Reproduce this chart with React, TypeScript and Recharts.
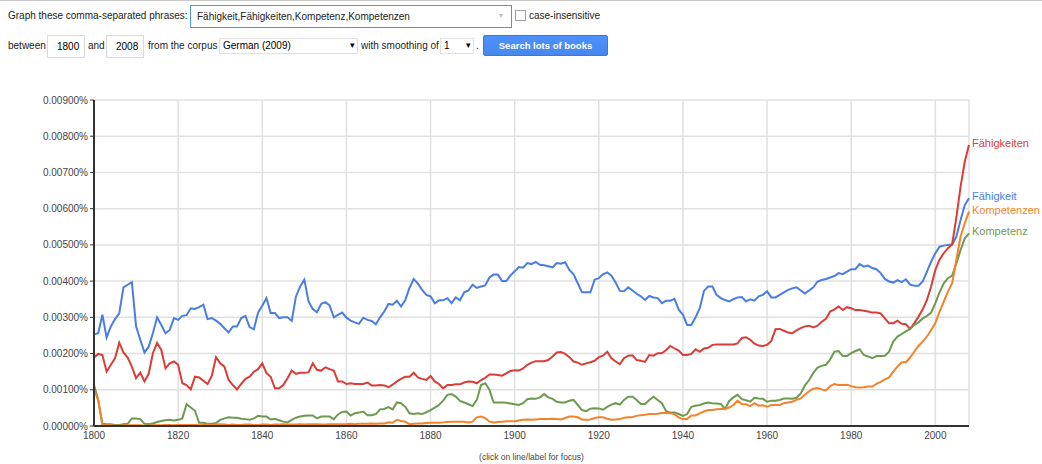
import React from "react";
import { LineChart, Line, XAxis, YAxis, CartesianGrid } from "recharts";

// Values are in units of 0.001 % (2.53 -> 0.00253%), one per year 1800..2008
const years = Array.from({ length: 209 }, (_, i) => 1800 + i);

const faehigkeit = [
  2.53, 2.56, 3.07, 2.44, 2.75, 2.95, 3.11, 3.83, 3.9, 3.97,
  2.75, 2.38, 2.03, 2.19, 2.56, 3.0, 2.79, 2.56, 2.65, 2.98,
  2.93, 3.04, 3.06, 3.25, 3.23, 3.28, 3.35, 2.95, 2.98, 2.91,
  2.82, 2.7, 2.58, 2.75, 2.75, 2.98, 3.04, 2.73, 2.67, 3.13,
  3.32, 3.53, 3.12, 3.12, 2.98, 3.0, 3.0, 2.9, 3.57, 3.85,
  4.04, 3.44, 3.23, 3.14, 3.37, 3.42, 3.33, 3.0, 3.07, 3.13,
  2.99, 2.91, 2.86, 2.82, 2.99, 2.93, 2.9, 2.81, 3.0, 3.16,
  3.37, 3.35, 3.46, 3.3, 3.48, 3.81, 4.06, 3.93, 3.76, 3.62,
  3.58, 3.39, 3.47, 3.47, 3.53, 3.39, 3.55, 3.47, 3.69, 3.74,
  3.9, 3.81, 3.85, 3.88, 4.1, 4.18, 4.18, 4.0, 4.0, 4.16,
  4.27, 4.39, 4.37, 4.5, 4.47, 4.53, 4.45, 4.44, 4.41, 4.38,
  4.5, 4.48, 4.52, 4.31, 4.19, 3.94, 3.69, 3.69, 3.69, 4.04,
  4.08, 4.19, 4.24, 4.15, 3.96, 3.73, 3.72, 3.83, 3.74, 3.65,
  3.58, 3.48, 3.59, 3.55, 3.53, 3.39, 3.46, 3.46, 3.51, 3.21,
  3.07, 2.79, 2.79, 3.0, 3.25, 3.73, 3.85, 3.85, 3.62, 3.53,
  3.48, 3.44, 3.5, 3.55, 3.56, 3.44, 3.5, 3.46, 3.58, 3.62,
  3.72, 3.55, 3.55, 3.62, 3.69, 3.76, 3.8, 3.83, 3.74, 3.66,
  3.74, 3.83, 3.99, 4.03, 4.06, 4.1, 4.14, 4.22, 4.19, 4.26,
  4.33, 4.33, 4.47, 4.4, 4.43, 4.36, 4.33, 4.22, 4.06, 3.99,
  3.96, 4.03, 3.97, 4.05, 3.9, 3.87, 3.87, 3.99, 4.26, 4.54,
  4.77, 4.95, 4.98, 5.0, 5.01, 5.23, 5.69, 6.1, 6.29,
];

const faehigkeiten = [
  1.89, 1.99, 1.96, 1.5, 1.69, 1.87, 2.3, 2.03, 1.89, 1.64,
  1.32, 1.47, 1.23, 1.44, 2.01, 2.29, 2.1, 1.59, 1.73, 1.78,
  1.69, 1.18, 1.13, 1.01, 1.36, 1.34, 1.25, 1.16, 1.38, 1.9,
  1.73, 1.64, 1.27, 1.13, 1.01, 1.16, 1.3, 1.36, 1.5, 1.57,
  1.73, 1.46, 1.36, 1.04, 1.04, 1.13, 1.32, 1.53, 1.44, 1.47,
  1.47, 1.48, 1.73, 1.55, 1.53, 1.62, 1.57, 1.53, 1.23, 1.23,
  1.16, 1.18, 1.16, 1.16, 1.16, 1.2, 1.12, 1.12, 1.13, 1.12,
  1.07, 1.14, 1.23, 1.3, 1.36, 1.36, 1.47, 1.34, 1.3, 1.27,
  1.38, 1.23, 1.16, 1.04, 1.13, 1.13, 1.15, 1.15, 1.2, 1.23,
  1.22, 1.18, 1.27, 1.33, 1.42, 1.42, 1.41, 1.39, 1.45, 1.52,
  1.54, 1.53, 1.59, 1.69, 1.75, 1.79, 1.79, 1.79, 1.82, 1.92,
  2.03, 2.04, 1.99, 1.9, 1.78, 1.75, 1.69, 1.73, 1.76, 1.8,
  1.9, 1.94, 2.05, 1.87, 1.78, 1.71, 1.87, 1.94, 1.95, 1.82,
  1.8, 1.77, 1.96, 1.94, 2.01, 2.01, 2.1, 2.21, 2.14, 2.08,
  1.96, 1.96, 1.99, 2.12, 2.05, 2.14, 2.16, 2.24, 2.25, 2.25,
  2.25, 2.25, 2.25, 2.28, 2.43, 2.45, 2.38, 2.27, 2.22, 2.21,
  2.24, 2.35, 2.67, 2.68, 2.63, 2.58, 2.56, 2.64, 2.7, 2.75,
  2.77, 2.72, 2.77, 2.88, 2.96, 3.16, 3.22, 3.3, 3.2, 3.28,
  3.25, 3.2, 3.2, 3.18, 3.16, 3.13, 3.13, 3.11, 2.97, 2.84,
  2.84, 2.91, 2.82, 2.81, 2.68, 2.84, 3.02, 3.22, 3.48, 3.85,
  4.31, 4.59, 4.77, 4.91, 5.02, 5.76, 6.61, 7.3, 7.76,
];

const kompetenz = [
  1.13, 0.72, 0.06, 0.05, 0.05, 0.03, 0.03, 0.05, 0.06, 0.21,
  0.21, 0.19, 0.06, 0.05, 0.07, 0.11, 0.14, 0.16, 0.17, 0.15,
  0.17, 0.21, 0.6, 0.51, 0.42, 0.09, 0.09, 0.06, 0.06, 0.08,
  0.17, 0.21, 0.24, 0.23, 0.23, 0.2, 0.19, 0.17, 0.21, 0.28,
  0.26, 0.26, 0.18, 0.2, 0.16, 0.12, 0.1, 0.17, 0.23, 0.26,
  0.28, 0.29, 0.29, 0.21, 0.26, 0.26, 0.26, 0.19, 0.32, 0.39,
  0.4, 0.29, 0.35, 0.37, 0.4, 0.3, 0.3, 0.33, 0.46, 0.47,
  0.52, 0.46, 0.65, 0.63, 0.53, 0.35, 0.33, 0.35, 0.33, 0.38,
  0.44, 0.51, 0.58, 0.7, 0.86, 0.88, 0.81, 0.69, 0.65, 0.6,
  0.55, 0.72, 1.13, 1.18, 1.0, 0.65, 0.65, 0.65, 0.64, 0.62,
  0.6, 0.58, 0.63, 0.74, 0.76, 0.75, 0.79, 0.88, 0.79, 0.75,
  0.67, 0.65, 0.65, 0.7, 0.72, 0.58, 0.44, 0.41, 0.48, 0.49,
  0.48, 0.45, 0.53, 0.59, 0.63, 0.59, 0.72, 0.81, 0.81, 0.72,
  0.61, 0.61, 0.72, 0.81, 0.72, 0.63, 0.41, 0.37, 0.37, 0.33,
  0.28, 0.33, 0.53, 0.56, 0.58, 0.62, 0.65, 0.63, 0.62, 0.61,
  0.47, 0.69, 0.79, 0.86, 0.74, 0.71, 0.67, 0.78, 0.76, 0.75,
  0.67, 0.7, 0.7, 0.72, 0.76, 0.76, 0.75, 0.78, 0.9, 1.12,
  1.27, 1.47, 1.61, 1.66, 1.69, 1.84, 2.05, 2.07, 1.93, 1.93,
  2.01, 2.07, 2.12, 1.96, 1.92, 1.87, 1.93, 1.93, 1.94, 2.05,
  2.33, 2.47, 2.54, 2.61, 2.68, 2.79, 2.86, 2.97, 3.04, 3.13,
  3.39, 3.69, 3.94, 4.08, 4.15, 4.49, 4.86, 5.18, 5.32,
];

const kompetenzen = [
  1.0, 0.72, 0.02, 0.02, 0.02, 0.01, 0.01, 0.02, 0.02, 0.02,
  0.02, 0.02, 0.01, 0.01, 0.02, 0.02, 0.02, 0.03, 0.03, 0.02,
  0.03, 0.03, 0.03, 0.03, 0.03, 0.02, 0.03, 0.04, 0.03, 0.04,
  0.05, 0.04, 0.03, 0.04, 0.03, 0.03, 0.04, 0.04, 0.03, 0.03,
  0.04, 0.04, 0.03, 0.04, 0.04, 0.05, 0.04, 0.04, 0.04, 0.05,
  0.04, 0.05, 0.05, 0.05, 0.04, 0.04, 0.05, 0.05, 0.05, 0.05,
  0.05, 0.06, 0.05, 0.06, 0.06, 0.06, 0.07, 0.06, 0.07, 0.07,
  0.1, 0.09, 0.17, 0.14, 0.12, 0.05, 0.06, 0.07, 0.07, 0.08,
  0.09, 0.09, 0.09, 0.1, 0.11, 0.12, 0.12, 0.12, 0.12, 0.1,
  0.12, 0.24, 0.26, 0.22, 0.12, 0.1, 0.11, 0.12, 0.13, 0.13,
  0.13, 0.15, 0.17, 0.18, 0.17, 0.18, 0.19, 0.19, 0.19, 0.2,
  0.19, 0.18, 0.22, 0.26, 0.26, 0.24, 0.18, 0.17, 0.18, 0.22,
  0.24, 0.24, 0.2, 0.17, 0.18, 0.19, 0.23, 0.24, 0.25, 0.28,
  0.3, 0.31, 0.33, 0.33, 0.34, 0.36, 0.36, 0.36, 0.32, 0.24,
  0.19, 0.19, 0.29, 0.29, 0.35, 0.4, 0.44, 0.44, 0.46, 0.47,
  0.47, 0.51, 0.58, 0.7, 0.6, 0.6, 0.55, 0.63, 0.56, 0.57,
  0.53, 0.58, 0.58, 0.58, 0.63, 0.65, 0.67, 0.72, 0.76, 0.86,
  0.96, 1.03, 1.05, 1.01, 0.98, 1.1, 1.16, 1.13, 1.13, 1.14,
  1.1, 1.07, 1.06, 1.07, 1.09, 1.09, 1.16, 1.22, 1.29, 1.34,
  1.5, 1.64, 1.76, 1.76, 1.89, 2.05, 2.21, 2.33, 2.47, 2.65,
  2.84, 3.16, 3.43, 3.71, 3.94, 4.59, 5.23, 5.6, 5.92,
];

const xTicks = [1800, 1820, 1840, 1860, 1880, 1900, 1920, 1940, 1960, 1980, 2000];
const yTicks = [0, 1, 2, 3, 4, 5, 6, 7, 8, 9];

const series = [
  { name: "Fähigkeit", values: faehigkeit, color: "#4a7de2" },
  { name: "Fähigkeiten", values: faehigkeiten, color: "#d93d36" },
  { name: "Kompetenz", values: kompetenz, color: "#6c9b50" },
  { name: "Kompetenzen", values: kompetenzen, color: "#f3822a" },
];

const data = years.map((year, i) => {
  const row: Record<string, number> = { year };
  series.forEach((s) => {
    row[s.name] = s.values[i];
  });
  return row;
});

const font = "'Liberation Sans', Arial, sans-serif";

const fmtPct = (v: number) => (v / 1000).toFixed(5) + "%";

function endLabel(name: string, color: string) {
  return (props: any) => {
    if (props.index !== years.length - 1) return <g />;
    return (
      <text x={props.x + 3} y={props.y + 2} fill={color} fontSize={11} fontFamily={font}>
        {name}
      </text>
    );
  };
}

const box = (left: number, top: number, width: number, height: number, extra = {}) => ({
  position: "absolute" as const,
  left,
  top,
  width,
  height,
  boxSizing: "border-box" as const,
  border: "1px solid #d9d9d9",
  background: "#fff",
  ...extra,
});

const label = (left: number, top: number) => ({
  position: "absolute" as const,
  left,
  top,
  fontSize: 10,
  color: "#222",
  whiteSpace: "nowrap" as const,
});

export default function App() {
  return (
    <div
      style={{
        position: "absolute",
        left: 0,
        top: 0,
        width: 1042,
        height: 464,
        background: "#fff",
        fontFamily: font,
        overflow: "hidden",
      }}
    >
      <div style={{ position: "absolute", left: 0, top: 0, width: 1042, height: 1, background: "#c8c8c8" }} />

      {/* query form */}
      <div style={label(8, 10)}>Graph these comma-separated phrases:</div>
      <div style={box(190, 5, 322, 23, { border: "1px solid #4d90fe" })}>
        <span style={{ position: "absolute", left: 6, top: 5, fontSize: 10, color: "#222" }}>
          Fähigkeit,Fähigkeiten,Kompetenz,Kompetenzen
        </span>
        <span style={{ position: "absolute", right: 8, top: 5, fontSize: 8, color: "#bbb" }}>▾</span>
      </div>
      <div style={box(515, 10, 11, 11, { border: "1px solid #a0a0a0" })} />
      <div style={label(529, 10)}>case-insensitive</div>

      <div style={label(8, 40)}>between</div>
      <div style={box(47, 35, 38, 23)}>
        <span style={{ position: "absolute", left: 9, top: 5, fontSize: 10 }}>1800</span>
      </div>
      <div style={label(88, 40)}>and</div>
      <div style={box(106, 35, 38, 23)}>
        <span style={{ position: "absolute", left: 9, top: 5, fontSize: 10 }}>2008</span>
      </div>
      <div style={label(148, 40)}>from the corpus</div>
      <div style={box(219, 38, 139, 16, { border: "1px solid #e0e0e0" })}>
        <span style={{ position: "absolute", left: 3, top: 1, fontSize: 10 }}>German (2009)</span>
        <span style={{ position: "absolute", right: 2, top: 1, fontSize: 9 }}>▾</span>
      </div>
      <div style={label(361, 40)}>with smoothing of</div>
      <div style={box(440, 38, 34, 16, { border: "1px solid #e0e0e0" })}>
        <span style={{ position: "absolute", left: 3, top: 1, fontSize: 10 }}>1</span>
        <span style={{ position: "absolute", right: 2, top: 1, fontSize: 9 }}>▾</span>
      </div>
      <div style={label(476, 40)}>.</div>
      <div
        style={{
          position: "absolute",
          left: 483,
          top: 35,
          width: 125,
          height: 21,
          borderRadius: 2,
          background: "linear-gradient(#4d90fe, #4787ed)",
          border: "1px solid #3079ed",
          boxSizing: "border-box",
          color: "#fff",
          fontSize: 9.5,
          fontWeight: "bold",
          textAlign: "center",
          lineHeight: "19px",
        }}
      >
        Search lots of books
      </div>

      <LineChart
        width={1042}
        height={464}
        data={data}
        margin={{ top: 100, right: 73, bottom: 18, left: 0 }}
        style={{ position: "absolute", left: 0, top: 0 }}
      >
        <CartesianGrid stroke="#e0e0e0" strokeWidth={1.5} />
        <XAxis
          dataKey="year"
          type="number"
          domain={[1800, 2008]}
          ticks={xTicks}
          height={20}
          tickLine={false}
          tickSize={4}
          axisLine={{ stroke: "#333", strokeWidth: 2 }}
          tick={{ fill: "#444", fontSize: 10, fontFamily: font }}
        />
        <YAxis
          width={94}
          domain={[0, 9]}
          ticks={yTicks}
          tickFormatter={fmtPct}
          tickSize={4}
          tickLine={{ stroke: "#333" }}
          axisLine={{ stroke: "#333", strokeWidth: 2 }}
          tick={{ fill: "#444", fontSize: 10, fontFamily: font }}
        />
        {series.map((s) => (
          <Line
            key={s.name}
            type="linear"
            dataKey={s.name}
            stroke={s.color}
            strokeWidth={2}
            dot={false}
            activeDot={false}
            isAnimationActive={false}
            label={endLabel(s.name, s.color)}
          />
        ))}
      </LineChart>

      <div
        style={{
          position: "absolute",
          left: 431,
          top: 452,
          width: 201,
          textAlign: "center",
          fontSize: 8.5,
          color: "#444",
        }}
      >
        (click on line/label for focus)
      </div>
    </div>
  );
}
